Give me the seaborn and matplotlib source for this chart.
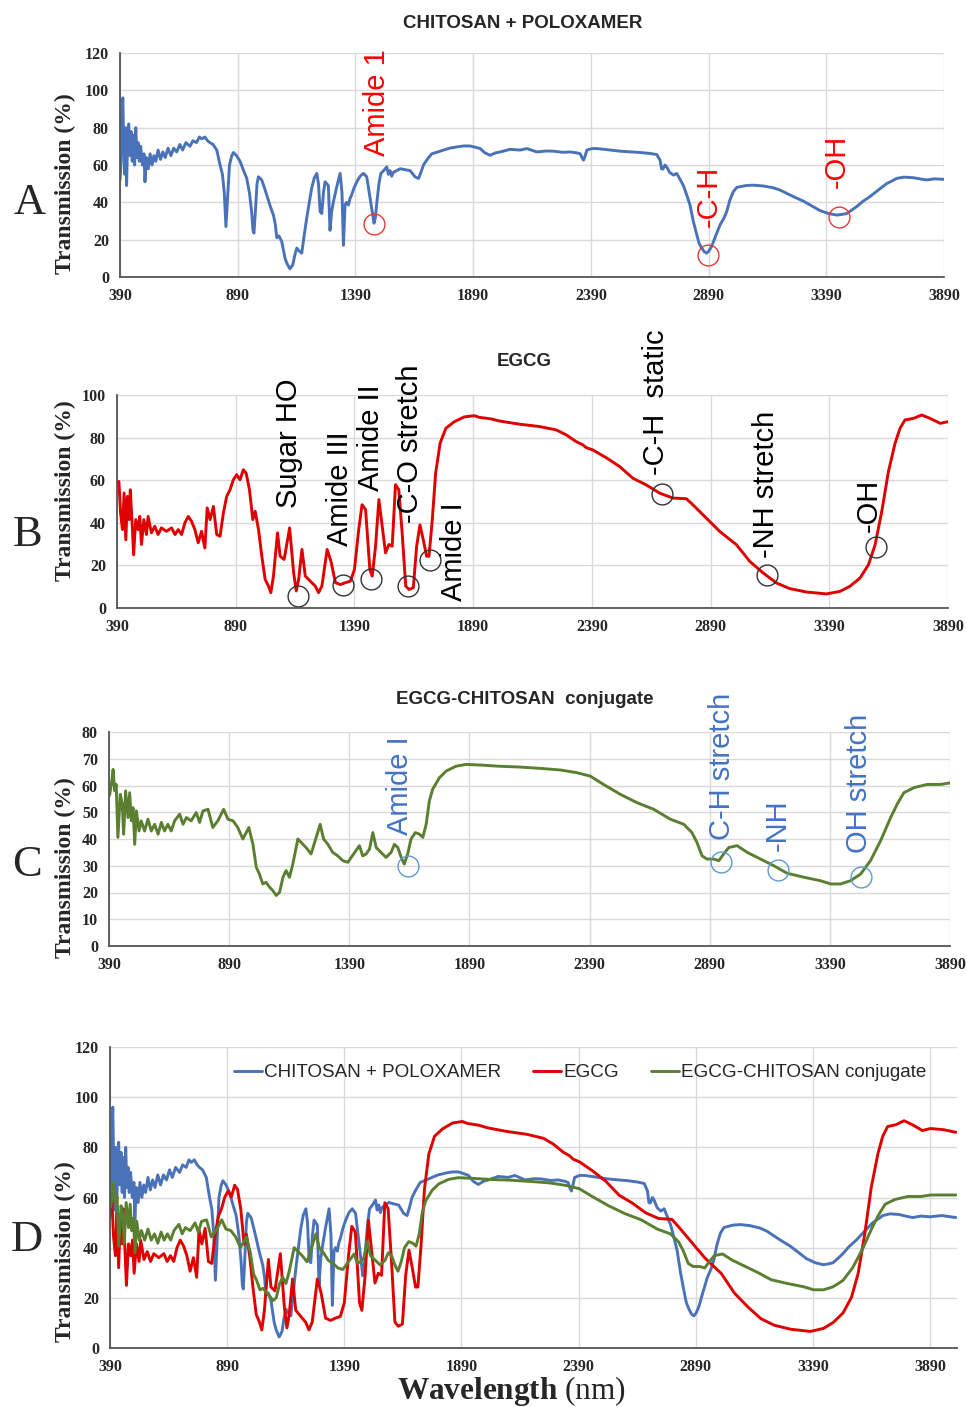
import matplotlib
matplotlib.use("Agg")
import matplotlib.pyplot as plt
import seaborn as sns
import pandas as pd

# ---------------- data ----------------
chitosan_wl = [390, 394, 398, 402, 406, 410, 414, 418, 422, 427, 432, 437, 442, 447, 452, 457, 462, 467, 472, 478,
               485, 492, 496, 502, 510, 518, 526, 534, 542, 552, 562, 572, 582, 594, 606, 618, 631, 644, 656, 670,
               687, 700, 715, 727, 737, 750, 762, 772, 785, 801, 815, 825, 833, 840, 846, 855, 865, 872, 885, 900,
               915, 928, 940, 949, 955, 959, 965, 972, 978, 992, 1003, 1013, 1028, 1042, 1050, 1056, 1065, 1077,
               1085, 1091, 1100, 1112, 1124, 1133, 1141, 1150, 1162, 1172, 1183, 1194, 1204, 1215, 1226, 1233,
               1240, 1247, 1254, 1261, 1268, 1275, 1282, 1289, 1296, 1310, 1325, 1333, 1339, 1343, 1346, 1352,
               1360, 1367, 1374, 1385, 1396, 1410, 1424, 1438, 1445, 1452, 1460, 1469, 1475, 1481, 1490, 1498,
               1510, 1523, 1530, 1537, 1544, 1551, 1565, 1580, 1600, 1622, 1635, 1643, 1658, 1668, 1679, 1695,
               1714, 1740, 1764, 1790, 1821, 1850, 1877, 1900, 1920, 1940, 1962, 1985, 2005, 2047, 2090, 2118,
               2161, 2200, 2232, 2270, 2302, 2330, 2345, 2352, 2359, 2366, 2373, 2395, 2415, 2460, 2514, 2560,
               2599, 2640, 2670, 2684, 2690, 2696, 2705, 2712, 2725, 2741, 2755, 2770, 2783, 2797, 2811, 2825,
               2840, 2850, 2861, 2872, 2882, 2892, 2903, 2920, 2939, 2955, 2967, 2980, 2995, 3010, 3024, 3050,
               3080, 3120, 3165, 3195, 3222, 3260, 3292, 3330, 3363, 3400, 3434, 3455, 3476, 3500, 3519, 3545,
               3575, 3610, 3646, 3670, 3688, 3720, 3759, 3790, 3816, 3850, 3890, 3940, 4000]
chitosan_t = [52, 60, 88, 96, 70, 55, 80, 49, 72, 82, 65, 78, 62, 76, 60, 80, 64, 72, 62, 70,
              60, 66, 51, 64, 58, 66, 60, 65, 62, 68, 63, 67, 64, 69, 65, 69, 67, 71, 68, 72,
              70, 73, 72, 75, 74, 75, 73, 72, 71, 68, 60, 55, 45, 27, 40, 60, 65, 66.7, 65, 62,
              57, 53, 45, 35, 25, 23.5, 35, 50, 53.7, 52, 48, 44, 38, 33, 28, 21, 22, 19,
              14, 10, 7, 4.4, 6.6, 12, 15.5, 14, 12.8, 22, 31.5, 40, 47.5, 53, 55.5, 50,
              35, 34, 45, 51, 50, 49, 25, 35, 40, 48, 55.5, 45, 17, 30, 38.6, 40,
              38.6, 42, 44, 48, 51, 54, 55.5, 53.7, 48, 42, 36, 28.8, 32, 40, 50, 55.5,
              57, 59, 55, 57, 54, 56, 57, 58, 57.5, 57, 55, 53.7, 52.8, 56, 60, 63,
              66, 67, 68, 69, 69.7, 70.2, 70.2, 69.5, 68.8, 66.5, 65.2, 66.5, 67, 68.4, 68, 68.8,
              67, 67.5, 67.4, 66.8, 67, 66.5, 66, 64, 62.6, 65, 68, 68.8, 68.8, 68.2, 67.4, 67,
              66.7, 66.2, 65.6, 62.6, 58, 57.8, 60, 59, 56, 54.6, 55.5, 52, 49, 44, 38.6, 30,
              22.6, 18, 15.5, 13.5, 12.8, 14, 16.4, 22, 28, 31.5, 35, 41, 45.7, 48, 48.4, 49,
              49.2, 48.8, 47.8, 46.5, 44.8, 42.5, 40.7, 38, 35.6, 34, 33.2, 33.5, 34, 36, 37.7, 40.5,
              43, 46.5, 50, 51.5, 52.8, 53.5, 53.2, 52.5, 52, 52.6, 52.3, 52.8, 52]

egcg_wl = [390, 398, 405, 413, 420, 427, 434, 441, 446, 455, 460, 469, 479, 486, 493, 503, 514, 521, 535, 549,
           563, 577, 598, 620, 634, 648, 662, 676, 690, 704, 718, 732, 746, 760, 770, 782, 796, 810, 824, 838,
           852, 866, 880, 894, 908, 922, 934, 948, 962, 972, 986, 1000, 1014, 1028, 1038, 1049, 1066, 1077,
           1094, 1117, 1134, 1145, 1155, 1169, 1183, 1204, 1225, 1239, 1253, 1275, 1291, 1310, 1331, 1352,
           1373, 1390, 1408, 1422, 1437, 1455, 1465, 1479, 1493, 1507, 1521, 1535, 1549, 1563, 1577, 1591,
           1606, 1620, 1638, 1652, 1666, 1680, 1694, 1704, 1718, 1732, 1751, 1775, 1810, 1852, 1894, 1916,
           1965, 2000, 2085, 2169, 2240, 2282, 2324, 2352, 2366, 2394, 2450, 2507, 2563, 2619, 2676, 2732,
           2788, 2816, 2872, 2929, 2999, 3055, 3112, 3168, 3224, 3294, 3379, 3435, 3477, 3519, 3555, 3583,
           3611, 3639, 3667, 3688, 3709, 3744, 3779, 3815, 3857, 3892, 3950, 4000]
egcg_t = [58.7, 59.4, 44.6, 36.8, 54, 32, 52.4, 41.5, 55.5, 36.8, 25, 41.5, 36.8, 43, 29.8, 41.5, 34.5, 43, 35.3, 38.4,
          34.5, 37.6, 36, 37.6, 34.5, 36.8, 34.5, 40, 43, 40.7, 36.8, 30.6, 36, 28.2, 47, 41.5, 47.7, 34.5, 33.7, 44.6,
          52.4, 55.5, 60.2, 62.6, 60.2, 64.9, 63.3, 55.5, 41.5, 45.4, 36.8, 24.3, 13.4, 10.3, 7.2, 15, 35.3, 24.3,
          22.8, 37.6, 16.5, 8, 13.4, 27.5, 15, 12.6, 10.3, 7.2, 10.3, 27.5, 22, 11.9, 11, 11.9,
          12.6, 18, 36.8, 48.5, 46.2, 18, 15, 29, 50.9, 38.4, 25.9, 29.8, 29, 57.9, 55.5, 35.3,
          10.3, 8.7, 9.5, 29, 39, 32, 24.3, 24.3, 41.5, 63.3, 77.4, 84.4, 87.4, 89.7, 90.3, 89.5,
          88.8, 87.8, 86.3, 85.2, 83.6, 81.3, 78.1, 76.6, 75.3, 74.2, 70.6, 66.4, 60.9, 57.8, 53.9, 51.6,
          51.3, 48.4, 42.2, 35.9, 29.7, 21.9, 16.4, 11.7, 9.1, 7.5, 6.6, 7.8, 10.2, 14, 20.3, 29.7,
          45.3, 64, 77.3, 84.4, 88.3, 89, 90.6, 89, 86.7, 87.5, 87, 86]

conj_wl = [390, 393, 400, 407, 414, 420, 427, 437, 445, 451, 459, 469, 476, 483, 490, 497, 504, 515, 524, 538,
           552, 566, 580, 594, 608, 621, 635, 649, 663, 684, 698, 712, 732, 753, 767, 781, 802, 822, 843, 867,
           885, 906, 926, 947, 972, 989, 1003, 1016, 1030, 1044, 1058, 1072, 1086, 1100, 1114, 1127, 1141, 1155,
           1176, 1190, 1210, 1231, 1252, 1269, 1283, 1301, 1321, 1342, 1363, 1384, 1398, 1418, 1432, 1446,
           1460, 1474, 1488, 1502, 1522, 1543, 1564, 1578, 1592, 1606, 1619, 1633, 1647, 1665, 1682, 1696,
           1710, 1723, 1737, 1765, 1793, 1834, 1876, 1945, 2014, 2101, 2184, 2268, 2337, 2393, 2448, 2518,
           2587, 2657, 2726, 2782, 2816, 2837, 2858, 2879, 2907, 2928, 2948, 2969, 3004, 3046, 3101, 3157,
           3212, 3282, 3351, 3393, 3435, 3476, 3518, 3559, 3601, 3643, 3670, 3698, 3740, 3795, 3851, 3893,
           3950, 4000]
conj_t = [56, 56.7, 60.4, 66, 58, 60.4, 40.6, 56.7, 53, 41.8, 58, 48, 57.3, 46.8, 51.7, 38, 50.5, 43, 46.8, 43,
          47.4, 43, 45.5, 41.8, 46.2, 43, 45.5, 43, 46.8, 49.3, 45.5, 48, 46.8, 49.9, 46.2, 50.5, 51.1, 44.3, 46.8, 51.1,
          47.4, 46.8, 44.3, 40, 44.3, 38, 29.4, 26.9, 23.2, 23.8, 22, 20.7, 18.9, 20.1, 25.7, 28.2, 25.7, 30.6,
          40, 38.7, 36.8, 34.4, 40.6, 45.5, 40, 38, 35, 33.7, 31.9, 31.3, 33.1, 35.6, 37.5, 33.7,
          34.4, 36.2, 42.4, 36.8, 35, 33.1, 35, 38, 36.8, 33.1, 30.6, 34.4, 40, 42.4, 41.8, 40.6,
          45.5, 54.2, 58.6, 62.9, 65.4, 67.2, 67.9, 67.6, 67.2, 66.9, 66.4, 65.8, 64.8, 63.5, 60.4, 56.7,
          53.6, 51.1, 47.4, 45.5, 42.4, 38.7, 33.7, 32.5, 32.5, 31.9, 34.4, 36.8, 37.5, 35, 32.5, 30,
          27.2, 25.7, 24.4, 23.2, 23.2, 24.4, 26.9, 31.9, 39.3, 48, 53, 57.3, 59.2, 60.4, 60.4, 61,
          61, 61]

series_names = ["CHITOSAN + POLOXAMER", "EGCG", "EGCG-CHITOSAN conjugate"]
panel_titles = ["CHITOSAN + POLOXAMER", "EGCG", "EGCG-CHITOSAN  conjugate"]
panel_letters = ["A", "B", "C", "D"]
x_ticks = [390, 890, 1390, 1890, 2390, 2890, 3390, 3890]

# annotations: label, text anchor (wl, T), circle (wl, T)
ann_A_labels = ["Amide 1", "-C-H", "-OH"]
ann_A_text = [(1482, 65), (2890, 27), (3434, 47.5)]
ann_A_circ = [(1468, 28.4), (2887, 11.8), (3445, 32.3)]

ann_B_labels = ["Sugar HO", "Amide III", "Amide II", "-C-O stretch", "Amide I", "-C-H  static", "-NH stretch", "-OH"]
ann_B_text = [(1115, 47), (1329, 28.9), (1461, 54.7), (1626, 39.8), (1810, 3.1), (2661, 62.5), (3125, 23.4), (3555, 35.9)]
ann_B_circ = [(1151, 5.4), (1340, 10.6), (1460, 13.6), (1615, 10.5), (1708, 22.6), (2686, 53.6), (3128, 15.3), (3587, 28.6)]

ann_C_labels = ["Amide I", "C-H stretch", "-NH", "OH stretch"]
ann_C_text = [(1601, 41.6), (2942, 39.7), (3173, 35.4), (3511, 34.8)]
ann_C_circ = [(1636, 29.8), (2939, 31.4), (3175, 28.3), (3518, 25.8)]

# ---------------- style ----------------
sns.set_style("white")
plt.rcParams['font.family'] = ['Liberation Sans', 'DejaVu Sans']
plt.rcParams['mathtext.fontset'] = 'custom'
plt.rcParams['mathtext.bf'] = 'Liberation Serif:bold'
plt.rcParams['mathtext.rm'] = 'Liberation Serif'

BLUE = "#4A72B8"
RED = "#E00000"
GREEN = "#5B7F30"
GRID = "#D9D9D9"
SERIF = ['Liberation Serif', 'DejaVu Serif']
SANS = ['Liberation Sans', 'DejaVu Sans']

W, H = 967, 1407
fig = plt.figure(figsize=(W / 100, H / 100), dpi=100)


def px_axes(l, t, r, b):
    return fig.add_axes([l / W, 1 - b / H, (r - l) / W, (b - t) / H])


axA = px_axes(120, 53, 944, 277)
axB = px_axes(117, 395, 948, 608)
axC = px_axes(109, 732, 950, 946)
axD = px_axes(110, 1047, 957, 1348)

dfA = pd.DataFrame({"wl": chitosan_wl, "T": chitosan_t})
dfB = pd.DataFrame({"wl": egcg_wl, "T": egcg_t})
dfC = pd.DataFrame({"wl": conj_wl, "T": conj_t})


def style_axis(ax, ylim, ystep, xmax, ylab_xy):
    ax.set_xlim(390, xmax)
    ax.set_ylim(*ylim)
    ax.set_xticks(x_ticks)
    ax.set_xticklabels([str(v) for v in x_ticks])
    ax.set_yticks(list(range(ylim[0], ylim[1] + 1, ystep)))
    ax.grid(True, color=GRID, linewidth=1.0)
    ax.set_axisbelow(True)
    for s in ["top", "right"]:
        ax.spines[s].set_visible(False)
    for s in ["left", "bottom"]:
        ax.spines[s].set_color("#555555")
        ax.spines[s].set_linewidth(1.3)
    ax.tick_params(length=0, pad=8)
    for lab in ax.get_xticklabels() + ax.get_yticklabels():
        lab.set_fontfamily(SERIF)
        lab.set_fontweight('bold')
        lab.set_fontsize(11.5)
    ax.set_xlabel("")
    ax.set_ylabel("Transmission (%)", fontfamily=SERIF, fontweight='bold', fontsize=17)
    ax.yaxis.set_label_coords(*ylab_xy)


lw = 2.1
sns.lineplot(data=dfA, x="wl", y="T", ax=axA, color=BLUE, linewidth=lw, estimator=None, sort=False)
sns.lineplot(data=dfB, x="wl", y="T", ax=axB, color=RED, linewidth=lw, estimator=None, sort=False)
sns.lineplot(data=dfC, x="wl", y="T", ax=axC, color=GREEN, linewidth=lw, estimator=None, sort=False)
sns.lineplot(data=dfA, x="wl", y="T", ax=axD, color=BLUE, linewidth=lw, estimator=None, sort=False, label=series_names[0])
sns.lineplot(data=dfB, x="wl", y="T", ax=axD, color=RED, linewidth=lw, estimator=None, sort=False, label=series_names[1])
sns.lineplot(data=dfC, x="wl", y="T", ax=axD, color=GREEN, linewidth=lw, estimator=None, sort=False, label=series_names[2])

style_axis(axA, (0, 120), 20, 3890, (-0.053, 0.415))
style_axis(axB, (0, 100), 20, 3890, (-0.049, 0.55))
style_axis(axC, (0, 80), 10, 3890, (-0.039, 0.364))
style_axis(axD, (0, 120), 20, 4005, (-0.040, 0.32))


def annotate(ax, labels, texts, circs, tcolor, ccolor):
    for lab, (tx, ty), (cx, cy) in zip(labels, texts, circs):
        ax.text(tx, ty, lab, rotation=90, ha='center', va='bottom', color=tcolor,
                fontsize=21, fontfamily=SANS, clip_on=False)
        ax.plot([cx], [cy], marker='o', markersize=15, markerfacecolor='none',
                markeredgecolor=ccolor, markeredgewidth=1.0, linestyle='none', clip_on=False)


annotate(axA, ann_A_labels, ann_A_text, ann_A_circ, "#FF0000", "#E53935")
annotate(axB, ann_B_labels, ann_B_text, ann_B_circ, "black", "#333333")
annotate(axC, ann_C_labels, ann_C_text, ann_C_circ, "#4472C4", "#5B9BD5")

# titles
for title, (tx, ty) in zip(panel_titles, [(523, 23), (524, 362), (525, 700)]):
    fig.text(tx / W, 1 - ty / H, title, ha='center', va='center', fontsize=13.5,
             fontweight='bold', family=SANS)

# panel letters
for letter, (lx, ly) in zip(panel_letters, [(30, 203), (28, 535), (27, 865), (27, 1240)]):
    fig.text(lx / W, 1 - ly / H, letter, ha='center', va='center', fontsize=32, family=SERIF)

# legend in D
leg = axD.legend(loc='upper center', bbox_to_anchor=(0.555, 1.0), ncol=3, frameon=False,
                 handlelength=1.5, handletextpad=0.1, columnspacing=1.7,
                 prop={'family': SANS, 'size': 13.6})

# x label D
axD.set_xlabel(r"$\mathbf{Wavelength}$ (nm)", fontfamily=SERIF, fontsize=22.5, labelpad=0)
axD.xaxis.set_label_coords(0.474, -0.085)

fig.savefig("out.png", dpi=100)
